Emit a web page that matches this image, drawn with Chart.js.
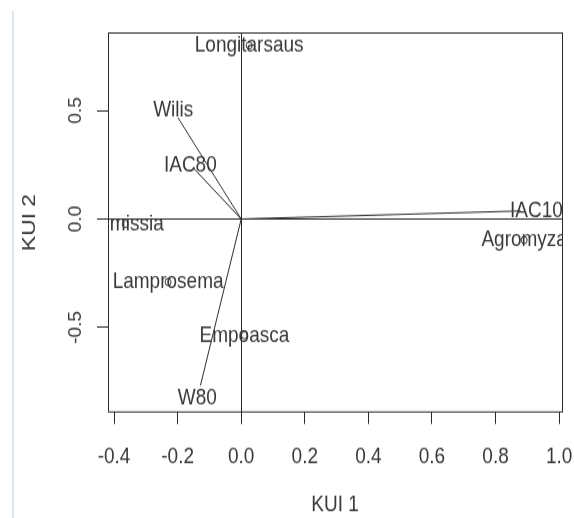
<!DOCTYPE html>
<html>
<head>
<meta charset="utf-8">
<script src="https://cdn.jsdelivr.net/npm/chart.js@4/dist/chart.umd.min.js"></script>
<style>
  html, body { margin: 0; padding: 0; background: #fff; overflow: hidden; }
  #wrap { position: relative; width: 574px; height: 518px; }
  /* the reference plot is stretched vertically, so draw short and stretch */
  #ordChart { position: absolute; left: 0; top: 0; transform-origin: 0 0; transform: scaleY(1.2); }
  #edge { position: absolute; left: 12px; top: 11px; height: 507px; border-left: 2px solid #dce6ef; }
</style>
</head>
<body>
<div id="wrap">
  <canvas id="ordChart" width="574" height="432"></canvas>
  <div id="edge"></div>
</div>
<script>
// =========================
// DATA
// =========================
// species scores (circles + names)
const speciesNames = ["Longitarsaus", "Bemissia", "Lamprosema", "Empoasca", "Agromyza"];
const speciesX = [0.025, -0.365, -0.23, 0.01, 0.89];
const speciesY = [0.80, -0.023, -0.29, -0.535, -0.097];

// variety scores (lines from origin + names)
const varNames = ["Wilis", "IAC80", "W80", "IAC100"];
const varX = [-0.214, -0.160, -0.138, 0.945];
const varY = [0.502, 0.250, -0.825, 0.040];

// axis ticks
const xTicks = [-0.4, -0.2, 0.0, 0.2, 0.4, 0.6, 0.8, 1.0];
const yTicks = [-0.5, 0.0, 0.5];

const arrowShrink = 0.93; // lines stop just short of the names
const FONT = "'Liberation Sans', Arial, sans-serif";
const INK = "#2a2a2a";
const TEXT = "#383838";

Chart.defaults.font.family = FONT;

// =========================
// PLUGINS
// =========================
const frame = {
    id: "frame",
    beforeDatasetsDraw(chart) {
        const { ctx, chartArea: a, scales } = chart;
        const x0 = Math.round(scales.x.getPixelForValue(0)) + 0.5;
        const y0 = scales.y.getPixelForValue(0);
        ctx.save();
        ctx.strokeStyle = INK;
        ctx.lineWidth = 1;
        ctx.beginPath();
        ctx.moveTo(x0, a.top); ctx.lineTo(x0, a.bottom);
        ctx.moveTo(a.left, y0); ctx.lineTo(a.right, y0);
        ctx.stroke();
        ctx.strokeRect(a.left + 0.5, a.top, a.right - a.left, a.bottom - a.top);
        ctx.restore();
    }
};

const names = {
    id: "names",
    afterDatasetsDraw(chart) {
        const { ctx, chartArea: a, scales } = chart;
        ctx.save();
        ctx.beginPath();
        ctx.rect(a.left, a.top, a.right - a.left, a.bottom - a.top);
        ctx.clip();
        ctx.font = "19px " + FONT;
        ctx.fillStyle = TEXT;
        ctx.textAlign = "center";
        ctx.textBaseline = "middle";
        speciesNames.forEach((n, i) => {
            ctx.fillText(n, scales.x.getPixelForValue(speciesX[i]), scales.y.getPixelForValue(speciesY[i]));
        });
        varNames.forEach((n, i) => {
            ctx.fillText(n, scales.x.getPixelForValue(varX[i]), scales.y.getPixelForValue(varY[i]));
        });
        ctx.restore();
    }
};

// rotated y tick labels, like R's default
const yLabels = {
    id: "yLabels",
    afterDraw(chart) {
        const { ctx, scales } = chart;
        ctx.save();
        ctx.font = "19px " + FONT;
        ctx.fillStyle = TEXT;
        ctx.textAlign = "center";
        ctx.textBaseline = "middle";
        yTicks.forEach(v => {
            ctx.save();
            ctx.translate(76, scales.y.getPixelForValue(v));
            ctx.rotate(-Math.PI / 2);
            ctx.scale(1 / 1.2, 1); // undo the page stretch along the text
            ctx.fillText(v.toFixed(1), 0, 0);
            ctx.restore();
        });
        ctx.restore();
    }
};

// =========================
// DATASETS
// =========================
const datasets = [{
    type: "scatter",
    data: speciesX.map((x, i) => ({ x: x, y: speciesY[i] })),
    pointStyle: "circle",
    pointRadius: 3,
    borderColor: TEXT,
    backgroundColor: "transparent",
    borderWidth: 1
}];

varNames.forEach((n, i) => {
    datasets.push({
        type: "line",
        label: n,
        data: [{ x: 0, y: 0 }, { x: varX[i] * arrowShrink, y: varY[i] * arrowShrink }],
        borderColor: INK,
        borderWidth: 1,
        pointRadius: 0,
        fill: false
    });
});

new Chart(document.getElementById("ordChart"), {
    data: { datasets: datasets },
    options: {
        responsive: false,
        animation: false,
        devicePixelRatio: 1,
        layout: { padding: { top: 27.5, right: 12, left: 0, bottom: 0 } },
        plugins: { legend: { display: false }, tooltip: { enabled: false } },
        scales: {
            x: {
                type: "linear",
                position: "bottom",
                min: -0.419,
                max: 1.009,
                afterBuildTicks: s => { s.ticks = xTicks.map(v => ({ value: v })); },
                afterFit: s => { s.height = 88.7; s.paddingLeft = 0; s.paddingRight = 0; },
                ticks: {
                    autoSkip: false,
                    maxRotation: 0,
                    padding: 16,
                    color: TEXT,
                    font: { size: 19 },
                    callback: v => v.toFixed(1)
                },
                grid: { drawOnChartArea: false, drawTicks: true, tickLength: 10, color: INK },
                border: { display: false },
                title: { display: true, text: "KUI 1", color: TEXT, font: { size: 19 }, padding: { top: 4, bottom: 0 } }
            },
            y: {
                type: "linear",
                position: "left",
                min: -0.889,
                max: 0.857,
                afterBuildTicks: s => { s.ticks = yTicks.map(v => ({ value: v })); },
                afterFit: s => { s.width = 108; },
                ticks: { display: false },
                grid: { drawOnChartArea: false, drawTicks: true, tickLength: 11, color: INK },
                border: { display: false },
                title: { display: true, text: "KUI 2", color: TEXT, font: { size: 19 }, padding: { top: 18, bottom: 0 } }
            }
        }
    },
    plugins: [frame, names, yLabels]
});
</script>
</body>
</html>
